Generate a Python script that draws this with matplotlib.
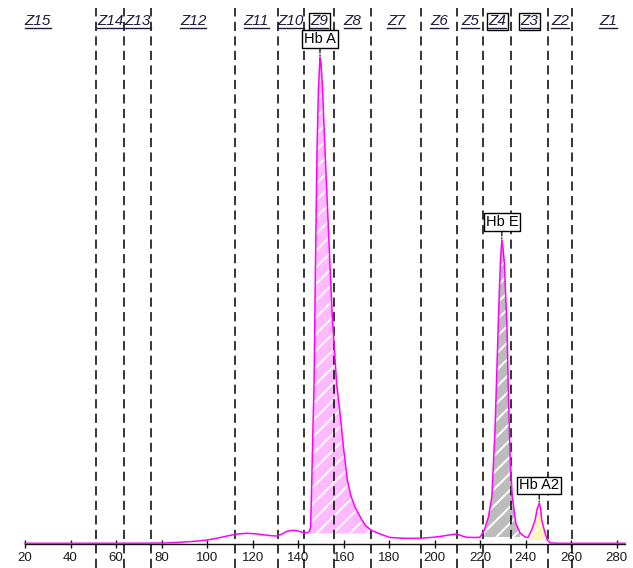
#!/usr/bin/env python3
"""Hb HPLC chromatogram with zone bands and labelled peaks."""

import matplotlib.pyplot as plt
import numpy as np
from matplotlib.lines import Line2D
from matplotlib.transforms import IdentityTransform, blended_transform_factory

plt.rcParams["font.family"] = ["Liberation Sans", "DejaVu Sans"]
plt.rcParams["hatch.linewidth"] = 1.4

# trace: retention time and detector signal
time = [20.0, 44.2, 70.5, 81.5, 88.1, 94.7, 100.0, 104.8, 108.8, 113.2,
        117.5, 121.1, 124.6, 127.7, 130.7, 132.9, 135.1, 137.8, 140.0, 142.2,
        143.9, 145.0, 145.5, 146.0, 146.5, 147.0, 147.7, 148.3, 148.9, 149.6,
        150.0, 150.6, 151.8, 153.7, 155.0, 156.9, 158.4, 159.9, 161.6, 163.2,
        165.0, 168.0, 169.8, 172.3, 176.0, 180.4, 187.0, 193.6, 199.3, 203.7,
        207.6, 209.8, 212.0, 214.2, 217.7, 219.9, 221.8, 223.6, 225.1, 226.5,
        227.4, 228.3, 228.9, 229.5, 230.0, 230.6, 231.8, 232.4, 233.2, 234.1,
        235.6, 237.5, 239.7, 241.0, 242.6, 244.1, 245.0, 245.9, 246.5, 247.0,
        248.5, 249.5, 250.7, 255.1, 283.6]
signal = [0.07, 0.07, 0.08, 0.10, 0.17, 0.27, 0.40, 0.60, 0.80, 1.00,
          1.07, 1.02, 0.93, 0.84, 0.80, 1.00, 1.27, 1.37, 1.30, 1.15,
          1.10, 1.30, 1.70, 6.4, 11.4, 16.1, 29.4, 39.4, 45.4, 48.7,
          48.2, 46.1, 39.4, 29.4, 22.7, 16.1, 13.1, 9.7, 6.4, 4.8,
          3.7, 2.4, 1.8, 1.35, 1.00, 0.65, 0.57, 0.57, 0.67, 0.80,
          0.95, 1.00, 0.80, 0.67, 0.65, 0.67, 1.4, 2.7, 4.7, 11.4,
          18.1, 24.7, 28.4, 30.4, 29.6, 28.1, 21.4, 14.7, 8.1, 4.7,
          2.1, 1.1, 0.70, 0.65, 1.4, 2.4, 3.5, 4.07, 3.6, 2.4,
          1.07, 0.40, 0.10, 0.07, 0.07]

zone_edges = [0.0, 51.2, 63.5, 75.4, 112.3, 131.0, 142.7, 155.8, 172.0,
              193.9, 209.7, 221.1, 233.7, 249.7, 260.2, 292.0]
zone_names = ["Z15", "Z14", "Z13", "Z12", "Z11", "Z10", "Z9", "Z8",
              "Z7", "Z6", "Z5", "Z4", "Z3", "Z2", "Z1"]
boxed_zones = ["Z9", "Z4", "Z3"]

peak_names = ["Hb A", "Hb E", "Hb A2"]
peak_times = [149.6, 229.5, 245.9]
peak_windows = [(145.0, 172.3), (221.8, 237.5), (240.0, 249.7)]
peak_bases = [1.05, 0.7, 0.4]
peak_colors = ["#ffbaff", "#bcbcbc", "#fff4b8"]

tick_values = list(range(20, 281, 20))


def main() -> None:
    fig = plt.figure(figsize=(6.33, 5.68), dpi=100)
    ax = fig.add_axes([25 / 633, 24 / 568, 600 / 633, 536 / 568])
    ax.set_xlim(20, 283.6)
    ax.set_ylim(0, 53.6)

    for side in ("left", "top", "right"):
        ax.spines[side].set_visible(False)
    ax.spines["bottom"].set_color("#111111")
    ax.spines["bottom"].set_linewidth(1.0)
    ax.set_yticks([])
    ax.set_xticks(tick_values)
    ax.tick_params(axis="x", direction="inout", length=6, width=1,
                   pad=3, labelsize=9.5, labelcolor="#1a1a1a", color="#111111")

    t = np.array(time)
    s = np.array(signal)
    for (lo, hi), base, fc in zip(peak_windows, peak_bases, peak_colors):
        mask = (t >= lo) & (t <= hi)
        ax.fill_between(t, s, base, where=mask, facecolor=fc,
                        edgecolor="white", hatch="//", lw=0, zorder=1)

    for e in zone_edges[1:-1]:
        ax.axvline(e, ymin=-24 / 536, ymax=1, color="black", lw=1.1,
                   ls=(0, (6, 3.5)), clip_on=False, zorder=3)

    ax.plot(t, s, color="#ff00ff", lw=1.1, zorder=4, clip_on=False)

    trans = blended_transform_factory(ax.transData, ax.transAxes)
    zone_texts = []
    for i, name in enumerate(zone_names):
        xc = (zone_edges[i] + zone_edges[i + 1]) / 2
        box = None
        if name in boxed_zones:
            box = dict(boxstyle="square,pad=0.1", fc="white", ec="black", lw=1)
        txt = ax.text(xc, 0.968, name, transform=trans, ha="center",
                      va="baseline", style="italic", fontsize=11,
                      color="#1c1c3a", bbox=box, zorder=5)
        zone_texts.append(txt)

    for name, pt in zip(peak_names, peak_times):
        idx = int(np.argmin(np.abs(t - pt)))
        ax.annotate(name, xy=(t[idx], s[idx]), xytext=(0, 11),
                    textcoords="offset pixels", ha="center", va="bottom",
                    fontsize=10.5, color="black", zorder=6,
                    bbox=dict(boxstyle="square,pad=0.12", fc="white",
                              ec="black", lw=1),
                    arrowprops=dict(arrowstyle="-", ls="--", color="black",
                                    lw=0.9, shrinkA=0, shrinkB=1))

    # underline the zone labels
    fig.canvas.draw()
    renderer = fig.canvas.get_renderer()
    for txt in zone_texts:
        bb = txt.get_window_extent(renderer)
        _, yb = txt.get_transform().transform(txt.get_position())
        fig.add_artist(Line2D([bb.x0, bb.x1], [yb - 2.5, yb - 2.5],
                              transform=IdentityTransform(),
                              color="#1c1c3a", lw=1.0))

    fig.savefig("out.png", dpi=100, facecolor="white")
    plt.close(fig)


if __name__ == "__main__":
    main()
